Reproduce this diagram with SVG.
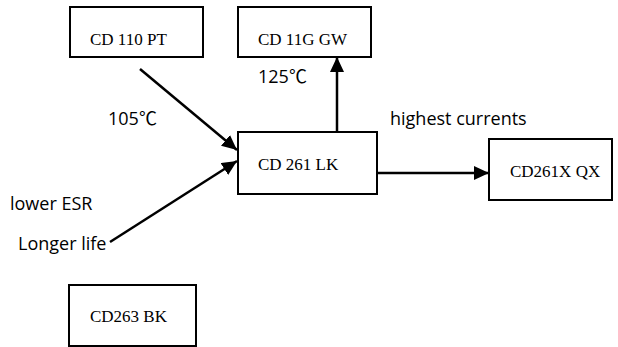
<svg xmlns="http://www.w3.org/2000/svg" width="618" height="347" viewBox="0 0 618 347">
<style>
.box{fill:#fff;stroke:#000;stroke-width:2}
.nt{font-family:"Liberation Serif",serif;font-size:17px;fill:#000}
.lb{font-family:"Open Sans","Noto Sans",sans-serif;font-size:18px;fill:#000}
.dg{font-family:"Noto Sans CJK SC",sans-serif;font-size:18px}
.cn{stroke:#000;stroke-width:2.5;fill:none}
</style>
<defs>
<marker id="ah" markerUnits="userSpaceOnUse" markerWidth="16" markerHeight="14" refX="15" refY="7" orient="auto">
<path d="M0,0 L15,7 L0,14 Z" fill="#000"/>
</marker>
</defs>
<rect width="618" height="347" fill="#fff"/>
<g id="connectors">
<line class="cn" x1="140" y1="69" x2="237" y2="150" marker-end="url(#ah)"/>
<line class="cn" x1="110" y1="242" x2="237" y2="161" marker-end="url(#ah)"/>
<line class="cn" x1="337" y1="132" x2="337" y2="57" marker-end="url(#ah)"/>
<line class="cn" x1="378" y1="173" x2="489" y2="173" marker-end="url(#ah)"/>
</g>
<g id="n-cd110pt"><rect class="box" x="70" y="7" width="133" height="50"/><text class="nt" x="90" y="45">CD 110 PT</text></g>
<g id="n-cd11ggw"><rect class="box" x="238" y="7" width="133" height="50"/><text class="nt" x="258" y="45">CD 11G GW</text></g>
<g id="n-cd261lk"><rect class="box" x="238" y="132" width="139" height="62"/><text class="nt" x="258" y="170">CD 261 LK</text></g>
<g id="n-cd261xqx"><rect class="box" x="489" y="139" width="123" height="61"/><text class="nt" x="510" y="177">CD261X QX</text></g>
<g id="n-cd263bk"><rect class="box" x="69" y="285" width="127" height="61"/><text class="nt" x="90" y="322">CD263 BK</text></g>
<g id="labels">
<text class="lb" x="108" y="125">105<tspan class="dg">℃</tspan></text>
<text class="lb" x="258" y="83">125<tspan class="dg">℃</tspan></text>
<text class="lb" x="390" y="125">highest currents</text>
<text class="lb" x="10" y="210">lower ESR</text>
<text class="lb" x="18" y="250">Longer life</text>
</g>
</svg>
